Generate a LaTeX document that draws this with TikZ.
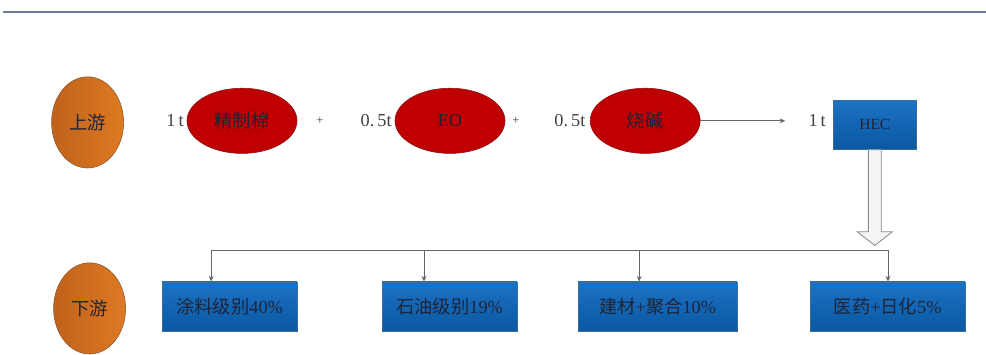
\documentclass[tikz,border=0pt]{standalone}
\usepackage{fontspec}
\setmainfont{Liberation Serif}
\newfontfamily\cjk{Noto Sans CJK SC}
\usepackage{tikz}
\usetikzlibrary{positioning,arrows.meta,shapes.geometric}
\usepackage{xcolor}
\definecolor{rulegray}{HTML}{6B7B9B}
\definecolor{stageL}{HTML}{C0621C}
\definecolor{stageR}{HTML}{DE7A22}
\definecolor{stagerim}{HTML}{8A5A32}
\definecolor{feedred}{HTML}{C00000}
\definecolor{feedrim}{HTML}{8E1010}
\definecolor{boxtop}{HTML}{1C72C4}
\definecolor{boxbot}{HTML}{0A58A2}
\definecolor{boxrim}{HTML}{3A6C9E}
\definecolor{inktext}{HTML}{1E2438}

\begin{document}
\begin{tikzpicture}[
  font=\fontsize{13}{15}\selectfont,
  >={Stealth[length=4pt,width=3.5pt]},
  stage/.style={ellipse, draw=stagerim, left color=stageL, right color=stageR, minimum width=1.8cm, minimum height=2.28cm, inner sep=0pt, text=inktext},
  feed/.style={ellipse, draw=feedrim, fill=feedred, minimum width=2.75cm, minimum height=1.63cm, inner sep=0pt, text=inktext},
  prodbox/.style={draw=boxrim, top color=boxtop, bottom color=boxbot, minimum height=1.23cm, inner sep=0pt, text=inktext},
  qty/.style={text=black!75, inner sep=1pt, font=\fontsize{13}{15}\selectfont},
  link/.style={->, black!60, line width=0.6pt},
  hollow/.style={draw=black!45, fill=black!4, line width=0.6pt},
]
\useasboundingbox (0,0) rectangle (24.65,-8.85);

% Title rule
\draw[rulegray, line width=0.8pt] (0.08,-0.3) -- (24.65,-0.3);

% Stage labels
\node[stage] (up) at (2.19,-3.06) {\cjk 上游};
\node[stage] (down) at (2.24,-7.71) {\cjk 下游};

% Upstream raw materials
\node[feed] (cotton) at (6.05,-3.02) {\cjk 精制棉};
\node[feed] (eo) at (11.25,-3.02) {EO};
\node[feed] (lye) at (16.13,-3.02) {\cjk 烧碱};

\node[qty, left=1pt of cotton] (q1) {1\,t};
\node[qty, left=1pt of eo] (q2) {0.\,5t};
\node[qty, left=2pt of lye] (q3) {0.\,5t};
\node[qty, font=\small] (p1) at (8.0,-3.02) {+};
\node[qty, font=\small] (p2) at (12.9,-3.02) {+};

% Product
\node[prodbox, minimum width=2.07cm] (hec) at (21.87,-3.12) {\fontsize{11}{13}\selectfont HEC};
\node[qty, left=4pt of hec.west|-lye] (q4) {1\,t};
\coordinate (feedend) at (19.63,-3.02);
\draw[link] (lye.east) -- (feedend);

% Hollow arrow to downstream
\draw[hollow] ([xshift=-0.16cm]hec.south) -- ++(0,-2.05) -- ++(-0.28,0)
  -- ++(0.44,-0.345) -- ++(0.44,0.345) -- ++(-0.28,0) -- ++(0,2.05) -- cycle;

% Downstream uses
\node[prodbox, minimum width=3.38cm] (coat) at (5.74,-7.66) {{\cjk 涂料级别}40\%};
\node[prodbox, minimum width=3.38cm] (oil) at (11.24,-7.66) {{\cjk 石油级别}19\%};
\node[prodbox, minimum width=3.98cm] (build) at (16.44,-7.66) {{\cjk 建材}+{\cjk 聚合}10\%};
\node[prodbox, minimum width=3.88cm] (med) at (22.19,-7.66) {{\cjk 医药}+{\cjk 日化}5\%};

% Distribution bus
\coordinate (b1) at (5.28,-6.25);
\coordinate (b2) at (10.6,-6.25);
\coordinate (b3) at (15.98,-6.25);
\coordinate (b4) at (22.2,-6.25);
\draw[black!60, line width=0.6pt] (b1) -- (b4);
\draw[link] (b1) -- (b1 |- coat.north);
\draw[link] (b2) -- (b2 |- oil.north);
\draw[link] (b3) -- (b3 |- build.north);
\draw[link] (b4) -- (b4 |- med.north);

\end{tikzpicture}
\end{document}
